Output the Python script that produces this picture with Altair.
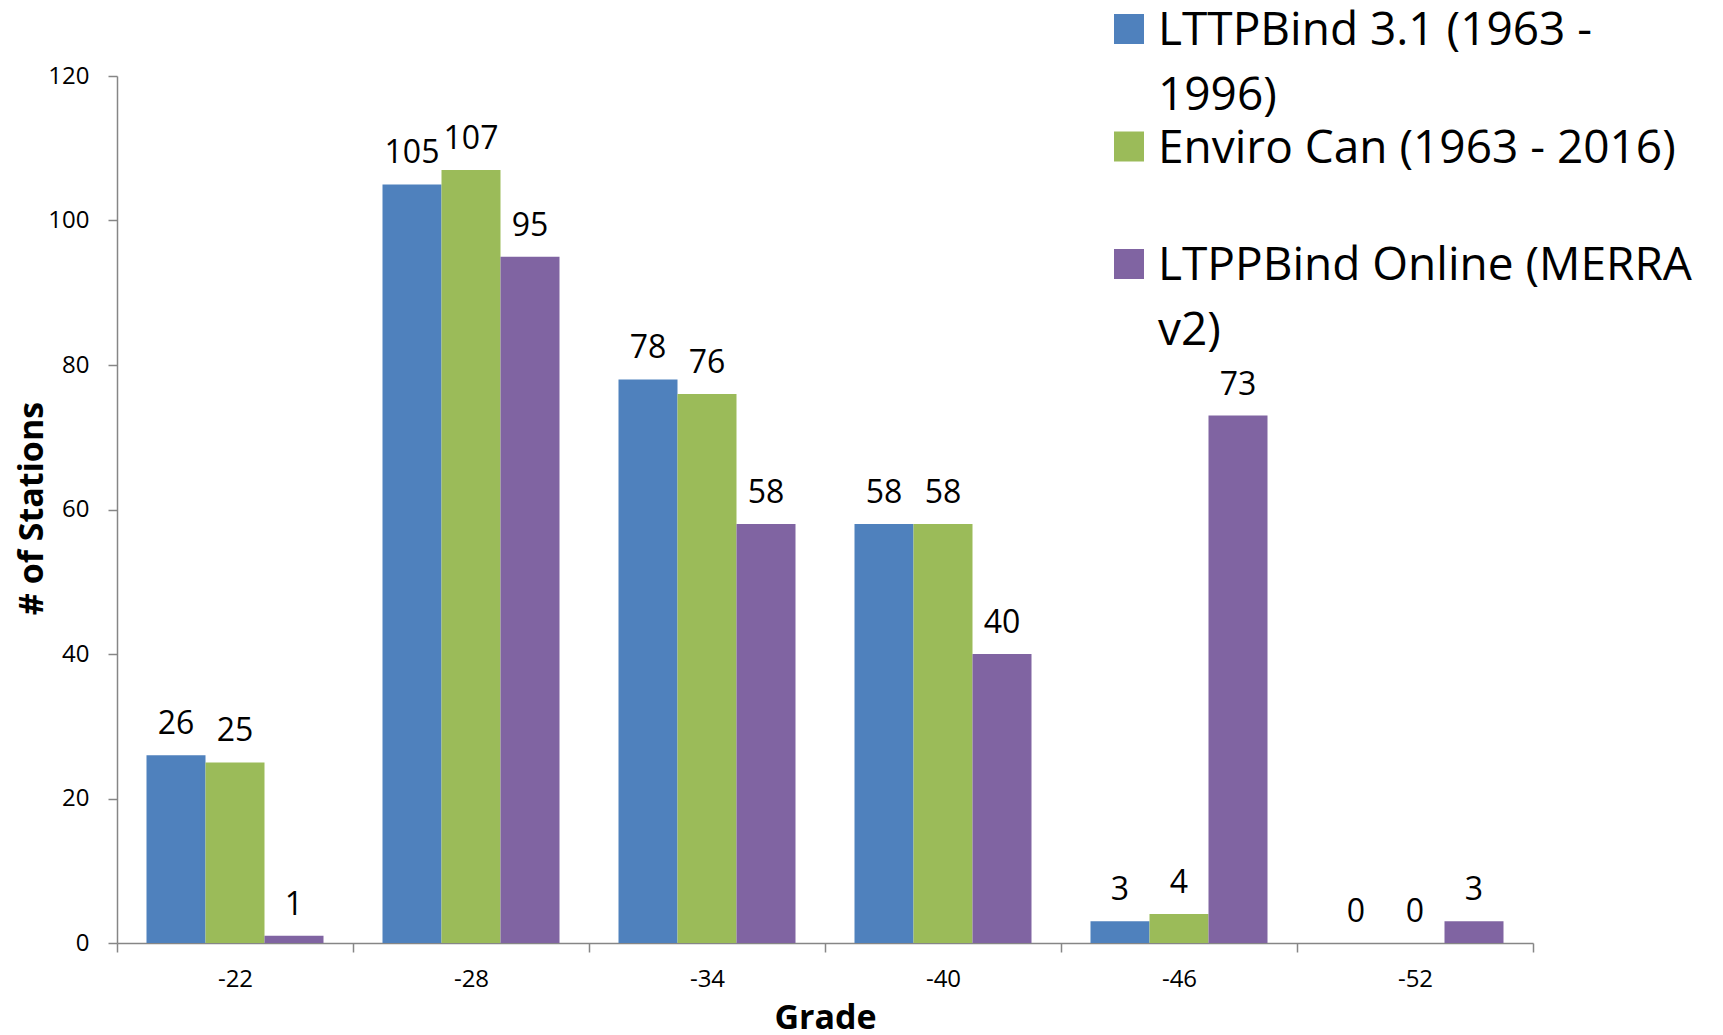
import altair as alt
import pandas as pd

# Station counts per low-temperature PG grade, for three climate data sources
GRADES = ["-22", "-28", "-34", "-40", "-46", "-52"]
SERIES = [
    "LTTPBind 3.1 (1963 - 1996)",
    "Enviro Can (1963 - 2016)",
    "LTPPBind Online (MERRA v2)",
]
LEGEND_TEXT = [
    "LTTPBind 3.1 (1963 -\n1996)",
    "Enviro Can (1963 - 2016)",
    "LTPPBind Online (MERRA\nv2)",
]
COLORS = ["#4F81BD", "#9BBB59", "#8064A2"]

LTTPBIND_31 = [26, 105, 78, 58, 3, 0]
ENVIRO_CAN = [25, 107, 76, 58, 4, 0]
LTPPBIND_ONLINE = [1, 95, 58, 40, 73, 3]

FONT = "Open Sans"

rows = []
for name, values in zip(SERIES, [LTTPBIND_31, ENVIRO_CAN, LTPPBIND_ONLINE]):
    for grade, v in zip(GRADES, values):
        rows.append({"grade": grade, "series": name, "stations": v})
df = pd.DataFrame(rows)

legend_df = pd.DataFrame({"series": SERIES, "label": LEGEND_TEXT})

x_enc = alt.X(
    "grade:N",
    sort=GRADES,
    scale=alt.Scale(paddingInner=0, paddingOuter=0),
    axis=alt.Axis(
        title="Grade",
        titleFont=FONT,
        titleFontSize=34,
        titleFontWeight="bold",
        titleColor="#000000",
        titleBaseline="alphabetic",
        titleY=85,
        labelAngle=0,
        labelFont=FONT,
        labelFontSize=24,
        labelColor="#000000",
        labelPadding=15,
        labelBaseline="top",
        tickBand="extent",
        tickSize=9,
        tickColor="#868686",
        tickWidth=1.5,
        domainColor="#868686",
        domainWidth=1.5,
    ),
)
xoff_enc = alt.XOffset(
    "series:N", sort=SERIES, scale=alt.Scale(paddingInner=0, paddingOuter=0.5)
)
y_scale = alt.Scale(domain=[0, 120])
color_enc = alt.Color(
    "series:N",
    sort=SERIES,
    scale=alt.Scale(domain=SERIES, range=COLORS),
    legend=None,
)

bars = alt.Chart(df).mark_bar().encode(
    x=x_enc,
    xOffset=xoff_enc,
    y=alt.Y(
        "stations:Q",
        scale=y_scale,
        axis=alt.Axis(
            title="# of Stations",
            titleFont=FONT,
            titleFontSize=34,
            titleFontWeight="bold",
            titleColor="#000000",
            titleAngle=270,
            titleBaseline="alphabetic",
            titleAlign="center",
            titleX=-75,
            titleY=432,
            values=[0, 20, 40, 60, 80, 100, 120],
            labelFont=FONT,
            labelFontSize=24,
            labelColor="#000000",
            labelPadding=19,
            tickSize=9,
            tickColor="#868686",
            tickWidth=1.5,
            domainColor="#868686",
            domainWidth=1.5,
            grid=False,
        ),
    ),
    color=color_enc,
)

labels = alt.Chart(df).mark_text(
    font=FONT, fontSize=32, baseline="alphabetic", dy=-21, color="#000000"
).encode(
    x=alt.X("grade:N", sort=GRADES),
    xOffset=xoff_enc,
    y=alt.Y("stations:Q", scale=y_scale, axis=None),
    text=alt.Text("stations:Q"),
)

legend_y = alt.Y(
    "series:N",
    sort=SERIES,
    scale=alt.Scale(type="point", domain=SERIES, range=[-47, 188], padding=0),
    axis=None,
)

legend_symbols = alt.Chart(legend_df).mark_square(size=900, opacity=1).encode(
    x=alt.value(1012),
    y=legend_y,
    color=color_enc,
)

legend_labels = alt.Chart(legend_df).mark_text(
    font=FONT,
    fontSize=46,
    align="left",
    baseline="alphabetic",
    lineBreak="\n",
    lineHeight=65,
    dy=16,
    color="#000000",
).encode(
    x=alt.value(1041),
    y=legend_y,
    text="label:N",
)

chart = (
    alt.layer(bars, labels, legend_symbols, legend_labels)
    .resolve_scale(y="independent")
    .properties(
        width=1416,
        height=867,
        padding={"left": 117, "top": 76, "right": 190, "bottom": 92},
        autosize=alt.AutoSizeParams(type="none"),
        background="#ffffff",
    )
    .configure_view(stroke=None)
)

chart.save("out.html", embed_options={"renderer": "svg", "actions": False})
